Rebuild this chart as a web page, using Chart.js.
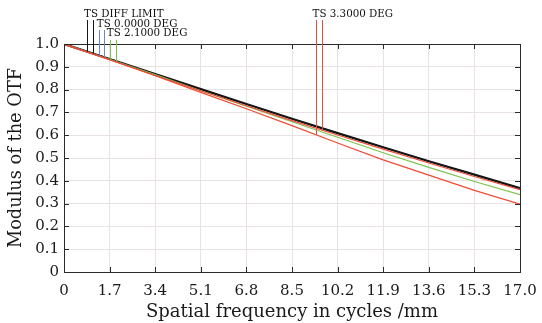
<!DOCTYPE html>
<html>
<head>
<meta charset="utf-8">
<script src="https://cdn.jsdelivr.net/npm/chart.js@4"></script>
<style>
  html, body { margin: 0; padding: 0; background: #fff; }
</style>
</head>
<body>
<canvas id="mtf" width="542" height="323"></canvas>
<script>
// spatial frequency (cycles/mm) at each tick
const freqs = [0, 1.7, 3.4, 5.1, 6.8, 8.5, 10.2, 11.9, 13.6, 15.3, 17.0];
const xTickLabels = ['0', '1.7', '3.4', '5.1', '6.8', '8.5', '10.2', '11.9', '13.6', '15.3', '17.0'];
const yTicks = [0, 0.1, 0.2, 0.3, 0.4, 0.5, 0.6, 0.7, 0.8, 0.9, 1.0];
const yTickLabels = ['0', '0.1', '0.2', '0.3', '0.4', '0.5', '0.6', '0.7', '0.8', '0.9', '1.0'];

// MTF
const diffLimit = [1.0, 0.934, 0.868, 0.802, 0.737, 0.672, 0.609, 0.547, 0.486, 0.427, 0.368];
const deg0 =      [1.0, 0.934, 0.868, 0.802, 0.737, 0.672, 0.609, 0.547, 0.486, 0.427, 0.368];
const deg21 =     [1.0, 0.933, 0.866, 0.795, 0.727, 0.659, 0.591, 0.523, 0.459, 0.397, 0.339];
const deg33T =    [1.0, 0.931, 0.862, 0.795, 0.729, 0.664, 0.601, 0.539, 0.478, 0.419, 0.361];
const deg33S =    [1.0, 0.932, 0.861, 0.788, 0.716, 0.642, 0.566, 0.492, 0.425, 0.358, 0.298];

// legend markers: label, frequencies of the two leader lines
const markerLabels = ['TS DIFF LIMIT', 'TS 0.0000 DEG', 'TS 2.1000 DEG', 'TS 3.3000 DEG'];
const markerFreqs = [[0.86, 1.08], [1.30, 1.49], [1.71, 1.93], [9.38, 9.60]];

const BLACK = '#151515', BLUE = '#6f82d6', GREEN = '#7cc44e', RED = '#ef4a36';
const FONT = "'DejaVu Serif', serif";

const pts = arr => arr.map((v, i) => ({ x: freqs[i], y: v }));
const interp = (arr, f) => {
  for (let i = 1; i < freqs.length; i++) {
    if (f <= freqs[i]) {
      const t = (f - freqs[i - 1]) / (freqs[i] - freqs[i - 1]);
      return arr[i - 1] + t * (arr[i] - arr[i - 1]);
    }
  }
  return arr[arr.length - 1];
};

const markers = [
  { color: BLACK, top: 20, textY: 17, textDx: -3, ends: [diffLimit, diffLimit] },
  { color: BLUE, top: 30, textY: 27, textDx: -2, ends: [deg0, deg0] },
  { color: GREEN, top: 40, textY: 36, textDx: -3, ends: [deg21, deg21] },
  { color: RED, top: 20, textY: 17, textDx: -3, ends: [deg33S, deg33T] },
];

const framePlugin = {
  id: 'framePlugin',
  afterDatasetsDraw(chart) {
    const { ctx, chartArea: a, scales: { x, y } } = chart;
    ctx.save();
    ctx.strokeStyle = '#2a2a2a';
    ctx.lineWidth = 1;
    ctx.strokeRect(a.left + 0.5, a.top + 0.5, a.right - a.left, a.bottom - a.top);
    const len = 5;
    ctx.beginPath();
    freqs.forEach(f => {
      const px = Math.round(x.getPixelForValue(f)) + 0.5;
      ctx.moveTo(px, a.bottom); ctx.lineTo(px, a.bottom - len);
      ctx.moveTo(px, a.top); ctx.lineTo(px, a.top + len);
    });
    yTicks.forEach(v => {
      const py = Math.round(y.getPixelForValue(v)) + 0.5;
      ctx.moveTo(a.left, py); ctx.lineTo(a.left + len, py);
      ctx.moveTo(a.right, py); ctx.lineTo(a.right - len, py);
    });
    ctx.stroke();

    // leader lines and labels
    ctx.font = '10.3px ' + FONT;
    ctx.textBaseline = 'alphabetic';
    ctx.textAlign = 'left';
    markers.forEach((m, i) => {
      ctx.strokeStyle = m.color;
      ctx.lineWidth = 1;
      markerFreqs[i].forEach((f, j) => {
        const px = Math.round(x.getPixelForValue(f)) + 0.5;
        ctx.beginPath();
        ctx.moveTo(px, m.top);
        ctx.lineTo(px, y.getPixelForValue(interp(m.ends[j], f)));
        ctx.stroke();
      });
      ctx.fillStyle = '#111';
      ctx.fillText(markerLabels[i], x.getPixelForValue(markerFreqs[i][0]) + m.textDx, m.textY);
    });
    ctx.restore();
  }
};

const line = (data, color, width) => ({
  data: pts(data), borderColor: color, borderWidth: width,
  pointRadius: 0, tension: 0, fill: false
});

// first dataset is drawn on top
new Chart(document.getElementById('mtf'), {
  type: 'line',
  data: {
    datasets: [
      line(deg33S, RED, 1.2),
      line(deg33T, RED, 1.2),
      line(deg21, GREEN, 1.2),
      line(diffLimit, BLACK, 2.2),
      line(deg0, BLUE, 1.2),
    ]
  },
  options: {
    responsive: false,
    animation: false,
    devicePixelRatio: 1,
    layout: { padding: { top: 44, right: 22, left: 0, bottom: 0 } },
    plugins: { legend: { display: false }, tooltip: { enabled: false } },
    scales: {
      x: {
        type: 'linear', min: 0, max: 17,
        afterBuildTicks: s => { s.ticks = freqs.map(v => ({ value: v })); },
        afterFit: s => { s.height = 51; s.paddingLeft = 0; s.paddingRight = 0; },
        ticks: {
          callback: (v, i) => xTickLabels[i],
          font: { family: FONT, size: 15 }, color: '#1a1a1a', padding: 10, maxRotation: 0,
          autoSkip: false
        },
        grid: { color: '#e8e2e2', drawTicks: false },
        border: { display: false },
        title: {
          display: true, text: 'Spatial frequency in cycles /mm',
          font: { family: FONT, size: 18 }, color: '#1a1a1a', padding: { top: 0, bottom: 0 }
        }
      },
      y: {
        min: 0, max: 1,
        afterBuildTicks: s => { s.ticks = yTicks.map(v => ({ value: v })); },
        afterFit: s => { s.width = 64; },
        ticks: {
          callback: (v, i) => yTickLabels[i],
          font: { family: FONT, size: 15 }, color: '#1a1a1a', padding: 5,
          autoSkip: false
        },
        grid: { color: '#e8e2e2', drawTicks: false },
        border: { display: false },
        title: {
          display: true, text: 'Modulus of the OTF',
          font: { family: FONT, size: 17.8 }, color: '#1a1a1a', padding: { top: 6, bottom: 0 }
        }
      }
    }
  },
  plugins: [framePlugin]
});
</script>
</body>
</html>
